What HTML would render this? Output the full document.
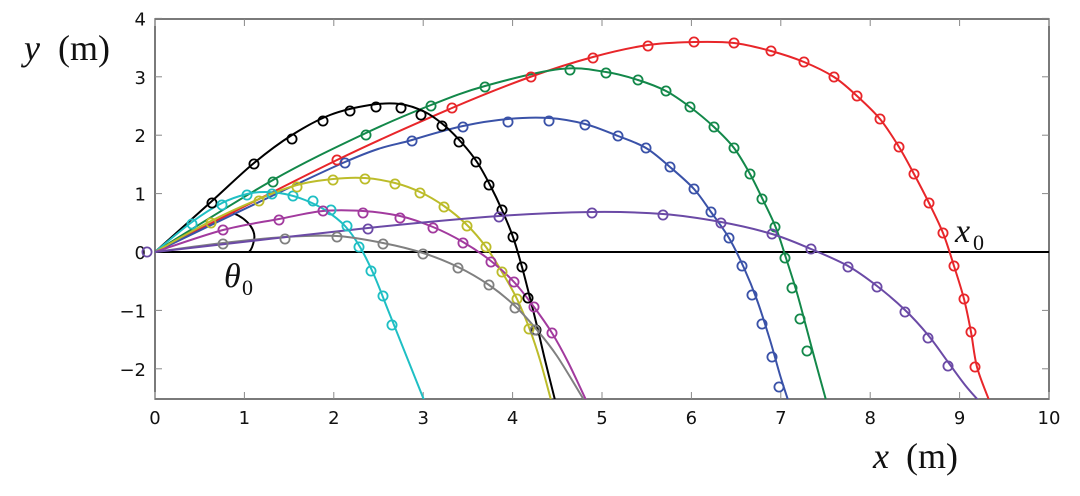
<!DOCTYPE html>
<html><head><meta charset="utf-8"><style>
html,body{margin:0;padding:0;background:#fff;}
svg{display:block;}
.t{font-family:"DejaVu Sans","Liberation Sans",sans-serif;font-size:18px;fill:#111;}
.m{font-family:"Liberation Serif","DejaVu Serif",serif;font-style:italic;fill:#111;}
.r{font-family:"Liberation Serif","DejaVu Serif",serif;fill:#111;}
</style></head><body>
<svg id="s" width="1080" height="496" viewBox="0 0 1080 496" xmlns="http://www.w3.org/2000/svg">
<defs><clipPath id="c"><rect x="155" y="19" width="894" height="380"/></clipPath></defs>
<rect x="155" y="19" width="894" height="380" fill="none" stroke="#333" stroke-width="1.3"/>
<g id="ticks" stroke="#888" stroke-width="1"></g>
<g class="t" text-anchor="middle" id="xl"></g>
<g class="t" text-anchor="end" id="yl"></g>
<line x1="155" y1="252" x2="1049" y2="252" stroke="#000" stroke-width="2"/>
<path d="M233,213 C250,220 256,232 254,240 C253,246 251,250 249,252" fill="none" stroke="#000" stroke-width="2"/>
<g id="curves" clip-path="url(#c)" fill="none" stroke-width="2"></g>
<g id="marks" fill="none" stroke-width="1.8"></g>
<text class="m" x="24" y="60" font-size="36">y</text><text class="r" x="58" y="60" font-size="36">(m)</text>
<text class="m" x="873" y="468" font-size="36">x</text><text class="r" x="906" y="468" font-size="36">(m)</text>
<text class="m" x="955" y="242" font-size="34">x</text><text class="r" x="973" y="250" font-size="22">0</text>
<text class="m" x="224" y="287" font-size="34">θ</text><text class="r" x="242" y="295" font-size="22">0</text>
</svg>
<script>
var NS="http://www.w3.org/2000/svg";
function el(t,a,p){var e=document.createElementNS(NS,t);for(var k in a)e.setAttribute(k,a[k]);document.getElementById(p).appendChild(e);return e;}
for(var i=0;i<=10;i++){var x=155+i*89.4;
 el("line",{x1:x,y1:399,x2:x,y2:392},"ticks");el("line",{x1:x,y1:19,x2:x,y2:26},"ticks");
 var tx=el("text",{x:x,y:424},"xl");tx.textContent=i;}
for(var j=-2;j<=4;j++){var y=252-j*58.4;
 el("line",{x1:155,y1:y,x2:162,y2:y},"ticks");el("line",{x1:1049,y1:y,x2:1042,y2:y},"ticks");
 var ty=el("text",{x:146,y:y+7},"yl");ty.textContent=(j<0?"\u2212"+(-j):j);}
function path(p){var d="M"+p[0][0]+","+p[0][1];
 for(var i=0;i<p.length-1;i++){var p0=p[i-1]||p[i],p1=p[i],p2=p[i+1],p3=p[i+2]||p2;
  d+=" C"+(p1[0]+(p2[0]-p0[0])/6)+","+(p1[1]+(p2[1]-p0[1])/6)+" "+(p2[0]-(p3[0]-p1[0])/6)+","+(p2[1]-(p3[1]-p1[1])/6)+" "+p2[0]+","+p2[1];}
 return d;}
var S=[
["#e8262a",[[155,252],[337,160],[452,108],[530,77],[593,57],[648,45],[694,42],[734,43],[771,51],[804,62],[834,77],[857,96],[880,119],[899,147],[914,174],[929,203],[943,233],[954,266],[964,299],[971,332],[977,367],[989,400]],
 [[337,160],[452,108],[531,77],[593,58],[648,46],[694,42],[734,43],[771,51],[804,62],[834,77],[857,96],[880,119],[899,147],[914,174],[929,203],[943,233],[954,266],[964,299],[971,332],[975,367]]],
["#13884a",[[155,252],[273,180],[366,133],[431,105],[485,86],[560,69],[606,72],[638,80],[666,91],[690,107],[714,127],[734,148],[750,174],[763,200],[776,228],[786,258],[797,293],[807,330],[815,360],[826,400]],
 [[273,182],[366,135],[431,106],[485,87],[570,70],[606,73],[638,80],[666,91],[690,107],[714,127],[734,148],[750,174],[762,199],[775,227],[785,258],[792,288],[800,319],[807,351]]],
["#3a52a8",[[155,252],[345,162],[412,140],[463,126],[508,119],[549,118],[585,124],[618,136],[646,148],[670,167],[694,189],[711,212],[729,238],[744,268],[757,300],[770,340],[780,375],[788,400]],
 [[345,163],[412,141],[463,127],[508,122],[549,121],[585,125],[618,136],[646,148],[670,167],[694,189],[711,212],[729,238],[742,266],[752,295],[762,324],[772,357],[779,387]]],
["#000",[[155,252],[212,201],[254,163],[292,135],[330,115],[370,105],[400,104],[425,112],[445,126],[462,143],[477,162],[490,185],[502,210],[513,237],[522,267],[530,298],[538,330],[545,360],[555,400]],
 [[212,203],[254,164],[292,139],[323,121],[350,111],[376,107],[401,108],[421,115],[442,126],[459,142],[476,162],[489,185],[502,210],[513,237],[522,267],[528,298],[536,330]]],
["#1fbfc4",[[155,252],[192,222],[222,203],[247,194],[265,192],[285,194],[305,200],[325,210],[345,226],[360,247],[374,275],[388,310],[400,340],[412,370],[424,400]],
 [[192,224],[222,205],[247,195],[272,194],[293,196],[313,201],[331,210],[347,226],[359,247],[371,271],[383,296],[392,325]]],
["#bcbc2a",[[155,252],[211,221],[259,199],[297,185],[333,179],[365,178],[395,183],[420,192],[444,206],[467,225],[486,247],[502,272],[517,299],[530,330],[540,360],[551,400]],
 [[211,223],[259,201],[297,187],[333,180],[365,179],[395,184],[420,193],[444,207],[467,226],[486,247],[502,272],[517,299],[529,329]]],
["#a23a9e",[[155,252],[223,230],[279,219],[323,211],[363,211],[400,216],[433,227],[463,242],[491,261],[514,282],[534,307],[552,333],[568,362],[586,400]],
 [[223,230],[279,220],[323,211],[363,213],[400,218],[433,228],[463,243],[491,262],[514,282],[534,307],[552,333]]],
["#808080",[[155,252],[223,243],[285,237],[337,236],[383,243],[423,253],[458,267],[489,285],[515,306],[537,330],[557,356],[584,400]],
 [[223,244],[285,239],[337,237],[383,244],[423,254],[458,268],[489,285],[515,308],[535,330]]],
["#6b4aa6",[[155,252],[368,228],[499,216],[592,212],[663,214],[721,222],[772,234],[811,249],[848,266],[877,286],[905,310],[928,335],[948,362],[965,385],[978,400]],
 [[147,252],[368,229],[499,217],[592,213],[663,215],[721,223],[772,234],[811,249],[848,267],[877,287],[905,312],[928,338],[948,366]]]
];
S.forEach(function(s){el("path",{d:path(s[1]),stroke:s[0]},"curves");
 s[2].forEach(function(p){el("circle",{cx:p[0],cy:p[1],r:4.6,stroke:s[0]},"marks");});});
</script>
</body></html>
